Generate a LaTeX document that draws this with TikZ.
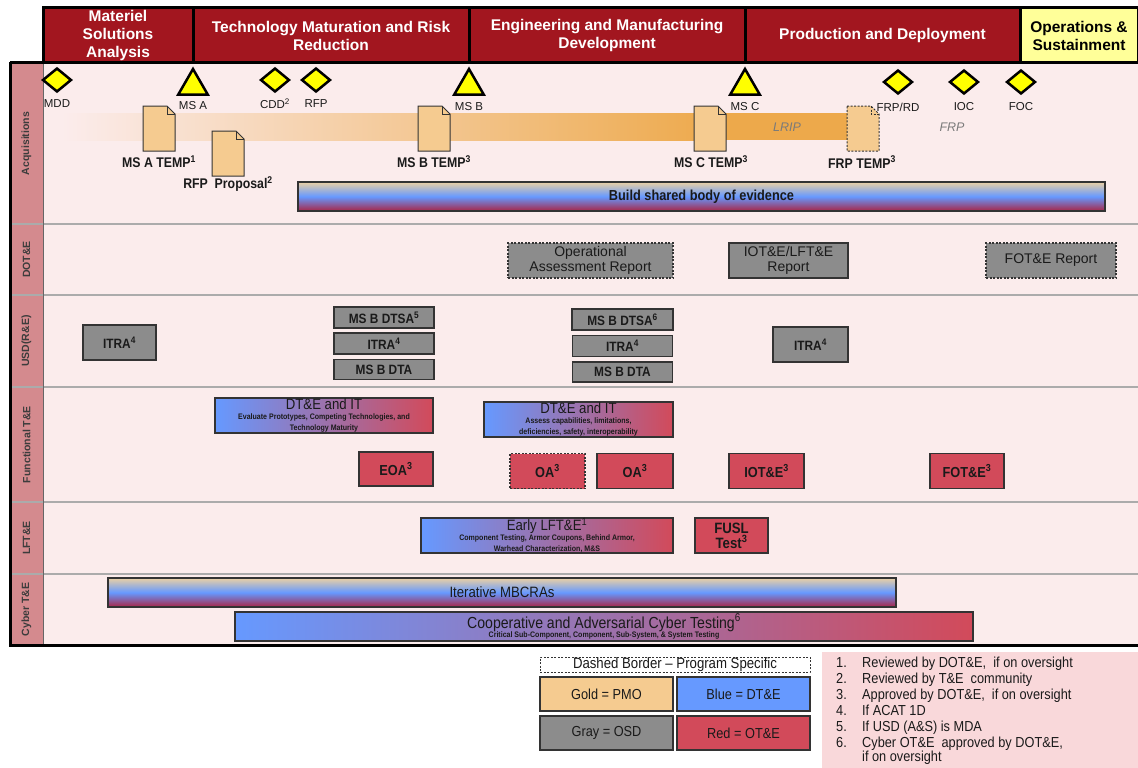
\documentclass[tikz,border=0pt]{standalone}
\usepackage{fontspec}
\setmainfont{Liberation Sans}
\newfontfamily\nar[FakeStretch=0.88]{Liberation Sans}
\usetikzlibrary{shapes.geometric}
\definecolor{hdr}{HTML}{A2161F}
\definecolor{osy}{HTML}{FFFF99}
\definecolor{bodybg}{HTML}{FBECEC}
\definecolor{labcol}{HTML}{D48A8E}
\definecolor{rowline}{HTML}{ABABAB}
\definecolor{msy}{HTML}{FFFF00}
\definecolor{gold}{HTML}{F5CB90}
\definecolor{orng}{HTML}{EDA94B}
\definecolor{osd}{HTML}{8C8C8C}
\definecolor{ote}{HTML}{D24A5A}
\definecolor{dte}{HTML}{6699FF}
\definecolor{cTan}{HTML}{EAD0A4}
\definecolor{cMaroon}{HTML}{A82545}
\definecolor{boxline}{HTML}{333333}
\definecolor{txt}{HTML}{1A1A1A}
\definecolor{notebg}{HTML}{F9D8DA}
\definecolor{lripc}{HTML}{7A7A7A}
\tikzset{
  phase/.style={draw=black, line width=3, fill=hdr, text=white, align=center, inner sep=0,
    font=\fontsize{15.5}{18}\selectfont\bfseries},
  msdia/.style={diamond, draw=black, line width=2.5, fill=msy, minimum width=29, minimum height=24, inner sep=0},
  mstri/.style={regular polygon, regular polygon sides=3, draw=black, line width=2.5, fill=msy, minimum size=34, inner sep=0},
  mslab/.style={font=\fontsize{11.5}{13}\selectfont, text=txt, inner sep=0},
  doclab/.style={font=\nar\fontsize{14}{15}\selectfont\bfseries, text=txt, inner sep=0},
  tbox/.style={draw=boxline, line width=1.2, inner sep=0, align=center, text=txt},
  graybox/.style={tbox, fill=osd},
  redbox/.style={tbox, fill=ote},
  hgrad/.style={tbox, left color=dte, right color=ote},
  vgrad/.style={tbox, top color=cTan, bottom color=cMaroon, middle color=dte},
  dbord/.style={dash pattern=on 2pt off 1.5pt},
  rowlab/.style={rotate=90, font=\fontsize{10.5}{12}\selectfont\bfseries, text=txt!85, inner sep=0},
  graytxt/.style={font=\fontsize{14}{15.5}\selectfont},
  grayb/.style={font=\nar\fontsize{13.5}{14}\selectfont\bfseries},
  redtxt/.style={font=\nar\fontsize{14.5}{15}\selectfont\bfseries},
  legtxt/.style={font=\nar\fontsize{14.5}{15}\selectfont},
  doc/.pic={
    \path[fill=gold, draw=boxline, line width=1, pic actions] (0,0) -- (24,0) -- (32,8) -- (32,45) -- (0,45) -- cycle;
    \draw[draw=boxline, line width=0.8] (24,0) -- (24,8) -- (32,8);
  }
}
\newcommand{\ttl}{\fontsize{15}{16}\selectfont}
\newcommand{\sbt}{\fontsize{8}{9}\selectfont\bfseries}
\begin{document}
\begin{tikzpicture}[x=1pt,y=-1pt]
\useasboundingbox (0,0) rectangle (1138,768);
\fill[white] (0,0) rectangle (1138,768);

% ---------- body ----------
\fill[bodybg] (43,63) rectangle (1138,645);
\fill[labcol] (10,63) rectangle (43,645);
\foreach \yy in {224,295,387,502,574}
  \draw[rowline, line width=1.5] (10,\yy) -- (1138,\yy);
\draw[gray!80!black, line width=0.8] (43,63) -- (43,645);
\draw[black, line width=3] (10,62) -- (10,645) -- (1138,645);
\draw[black, line width=3] (10,63) -- (43,63);

% row labels
\node[rowlab] (lAcq) at (26.5,143.5) {Acquisitions};
\node[rowlab] (lDOT) at (26.5,259.5) {DOT\&E};
\node[rowlab] (lUSD) at (26.5,341) {USD(R\&E)};
\node[rowlab] (lFun) at (26.5,444.5) {Functional T\&E};
\node[rowlab] (lLFT) at (26.5,538) {LFT\&E};
\node[rowlab] (lCyb) at (26.5,609.5) {Cyber T\&E};

% ---------- header ----------
\node[phase, minimum width=150, minimum height=55] (pMSA) at (118,35.5) {Materiel\\Solutions\\Analysis};
\node[phase, minimum width=276, minimum height=55] (pTMRR) at (331,35.5) {Technology Maturation and Risk\\Reduction};
\node[phase, minimum width=276, minimum height=55] (pEMD) at (607,35.5) {Engineering and Manufacturing\\Development};
\node[phase, minimum width=275, minimum height=55] (pPD) at (882.5,35.5) {Production and Deployment};
\node[phase, fill=osy, text=black, minimum width=118, minimum height=55] (pOS) at (1079,35.5) {Operations \&\\Sustainment};

% ---------- acquisitions ----------
\fill[left color=bodybg, right color=orng] (62,113) rectangle (720,140);
\fill[orng] (719,113) rectangle (848,140);
\node[font=\fontsize{12.5}{14}\selectfont\itshape, text=lripc] (lrip) at (787,127) {LRIP};
\node[font=\fontsize{12.5}{14}\selectfont\itshape, text=lripc] (frp) at (952,127) {FRP};

\node[msdia] (mdd) at (57,80) {};
\node[mslab] (mddL) at (57,104) {MDD};
\node[mstri] (msA) at (193,86) {};
\node[mslab] (msAL) at (193,106) {MS A};
\node[msdia] (cdd) at (275,80) {};
\node[mslab] (cddL) at (275,104) {CDD\textsuperscript{2}};
\node[msdia] (rfp) at (316,80) {};
\node[mslab] (rfpL) at (316,104) {RFP};
\node[mstri] (msB) at (469,86) {};
\node[mslab] (msBL) at (469,107) {MS B};
\node[mstri] (msC) at (745,86) {};
\node[mslab] (msCL) at (745,107) {MS C};
\node[msdia] (frprd) at (898,82) {};
\node[mslab] (frprdL) at (898,107) {FRP/RD};
\node[msdia] (ioc) at (964,82) {};
\node[mslab] (iocL) at (964,107) {IOC};
\node[msdia] (foc) at (1021,82) {};
\node[mslab] (focL) at (1021,107) {FOC};

\pic (docA) at (143,106) {doc};
\node[doclab] (docAL) at (159,162) {MS A TEMP\textsuperscript{1}};
\pic (docR) at (212,131) {doc};
\node[doclab] (docRL) at (228,184) {RFP\ \ Proposal\textsuperscript{2}};
\pic (docB) at (418,106) {doc};
\node[doclab] (docBL) at (434,162) {MS B TEMP\textsuperscript{3}};
\pic (docC) at (694,106) {doc};
\node[doclab] (docCL) at (711,162) {MS C TEMP\textsuperscript{3}};
\pic[dbord] (docF) at (847,106) {doc};
\node[doclab] (docFL) at (862,162) {FRP TEMP\textsuperscript{3}};

\node[vgrad, minimum width=807, minimum height=29, font=\nar\fontsize{14.5}{15}\selectfont\bfseries] (build) at (701.5,196.5) {Build shared body of evidence};

% ---------- DOT&E ----------
\node[graybox, dbord, minimum width=165, minimum height=35, graytxt] (oar) at (590.5,260.5) {Operational\\Assessment Report};
\node[graybox, minimum width=119, minimum height=35, graytxt] (iotr) at (788.5,260.5) {IOT\&E/LFT\&E\\Report};
\node[graybox, dbord, minimum width=130, minimum height=35, graytxt] (fotr) at (1051,260.5) {FOT\&E Report};

% ---------- USD(R&E) ----------
\node[graybox, minimum width=73, minimum height=35, grayb] (itra1) at (119.5,342.5) {ITRA\textsuperscript{4}};
\node[graybox, minimum width=100, minimum height=21, grayb] (dtsa5) at (384,317.5) {MS B DTSA\textsuperscript{5}};
\node[graybox, minimum width=100, minimum height=21, grayb] (itra2) at (384,343.5) {ITRA\textsuperscript{4}};
\node[graybox, minimum width=100, minimum height=20, grayb] (dta1) at (384,369.5) {MS B DTA};
\node[graybox, minimum width=101, minimum height=21, grayb] (dtsa6) at (622.5,319.5) {MS B DTSA\textsuperscript{6}};
\node[graybox, minimum width=100, minimum height=21, grayb] (itra3) at (622.5,346) {ITRA\textsuperscript{4}};
\node[graybox, minimum width=100, minimum height=20, grayb] (dta2) at (622.5,372) {MS B DTA};
\node[graybox, minimum width=75, minimum height=35, grayb] (itra4) at (810.5,344.5) {ITRA\textsuperscript{4}};

% ---------- Functional T&E ----------
\node[hgrad, minimum width=218, minimum height=35] (dtit1) at (324,415.5)
  {{\nar\ttl DT\&E and IT}\\[-2pt]{\nar\sbt Evaluate Prototypes, Competing Technologies, and}\\[-1pt]{\nar\sbt Technology Maturity}};
\node[hgrad, minimum width=189, minimum height=35] (dtit2) at (578.5,419.5)
  {{\nar\ttl DT\&E and IT}\\[-2pt]{\nar\sbt Assess capabilities, limitations,}\\[-1pt]{\nar\sbt deficiencies, safety, interoperability}};
\node[redbox, minimum width=74, minimum height=34, redtxt] (eoa) at (396,469) {EOA\textsuperscript{3}};
\node[redbox, dbord, minimum width=75, minimum height=35, redtxt] (oa1) at (547.5,471) {OA\textsuperscript{3}};
\node[redbox, minimum width=76, minimum height=35, redtxt] (oa2) at (635,471) {OA\textsuperscript{3}};
\node[redbox, minimum width=75, minimum height=35, redtxt] (iote) at (766.5,471) {IOT\&E\textsuperscript{3}};
\node[redbox, minimum width=74, minimum height=35, redtxt] (fote) at (967,471) {FOT\&E\textsuperscript{3}};

% ---------- LFT&E ----------
\node[hgrad, minimum width=252, minimum height=35] (elft) at (547,535.5)
  {{\nar\ttl Early LFT\&E\textsuperscript{1}}\\[-2pt]{\nar\sbt Component Testing, Armor Coupons, Behind Armor,}\\[-1pt]{\nar\sbt Warhead Characterization, M\&S}};
\node[redbox, minimum width=73, minimum height=35, font=\nar\fontsize{15}{15}\selectfont\bfseries] (fusl) at (731.5,535.5) {FUSL\\Test\textsuperscript{3}};

% ---------- Cyber T&E ----------
\node[vgrad, minimum width=788, minimum height=29, font=\nar\fontsize{15}{16}\selectfont] (mbcra) at (502,592.5) {Iterative MBCRAs};
\node[hgrad, minimum width=738, minimum height=29] (coop) at (604,626.5)
  {{\nar\fontsize{16}{16}\selectfont Cooperative and Adversarial Cyber Testing\textsuperscript{6}}\\[-3pt]{\nar\sbt Critical Sub-Component, Component, Sub-System, \& System Testing}};

% ---------- legend ----------
\node[tbox, fill=white, dbord, line width=0.8, minimum width=270, minimum height=15, font=\nar\fontsize{15}{15}\selectfont] (legD) at (675,664.5) {Dashed Border – Program Specific};
\node[tbox, fill=gold, minimum width=133, minimum height=34, legtxt] (legG) at (606.5,694) {Gold = PMO};
\node[tbox, fill=dte, minimum width=133, minimum height=34, legtxt] (legB) at (743.5,694) {Blue = DT\&E};
\node[tbox, fill=osd, minimum width=133, minimum height=34, legtxt] (legO) at (606.5,733) {Gray = OSD};
\node[tbox, fill=ote, minimum width=133, minimum height=34, legtxt] (legR) at (743.5,733) {Red = OT\&E};

\fill[notebg] (822,652) rectangle (1138,768);
\node[anchor=north west, inner sep=0, text=txt, font=\nar\fontsize{14.5}{16}\selectfont] (notes) at (836,656)
  {\begin{tabular}{@{}p{26pt}@{}l@{}}
   1. & Reviewed by DOT\&E,\ \ if on oversight\\
   2. & Reviewed by T\&E\ \ community\\
   3. & Approved by DOT\&E,\ \ if on oversight\\
   4. & If ACAT 1D\\
   5. & If USD (A\&S) is MDA\\
   6. & Cyber OT\&E\ \ approved by DOT\&E,\\[-2pt]
      & if on oversight
   \end{tabular}};
\end{tikzpicture}
\end{document}
